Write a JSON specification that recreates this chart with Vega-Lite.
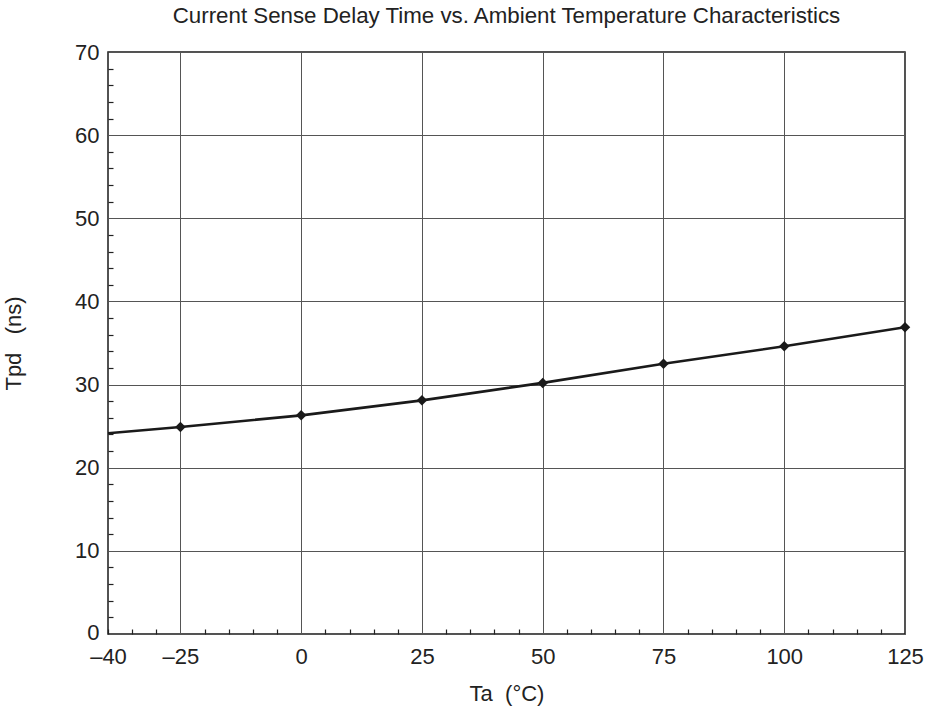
{
  "$schema": "https://vega.github.io/schema/vega-lite/v6.json",
  "width": 797,
  "height": 582,
  "autosize": {"type": "none"},
  "padding": {"left": 108, "top": 52, "right": 25, "bottom": 78},
  "background": "white",
  "config": {
    "font": "Liberation Sans",
    "view": {"stroke": "#1a1a1a", "strokeWidth": 1.5},
    "axis": {"domain": false}
  },
  "title": {
    "text": "Current Sense Delay Time vs. Ambient Temperature Characteristics",
    "fontSize": 22.3,
    "fontWeight": "normal",
    "color": "#222",
    "font": "Liberation Sans",
    "anchor": "middle",
    "offset": 14
  },
  "data": {
    "values": [
      {"Ta": -40, "Tpd": 24.15},
      {"Ta": -25, "Tpd": 24.9},
      {"Ta": 0, "Tpd": 26.3},
      {"Ta": 25, "Tpd": 28.1},
      {"Ta": 50, "Tpd": 30.2},
      {"Ta": 75, "Tpd": 32.5},
      {"Ta": 100, "Tpd": 34.6},
      {"Ta": 125, "Tpd": 36.9}
    ]
  },
  "encoding": {
    "x": {
      "field": "Ta",
      "type": "quantitative",
      "scale": {"domain": [-40, 125], "nice": false, "zero": false},
      "axis": {
        "title": "Ta\u00a0\u00a0(°C)",
        "titleFontSize": 22,
        "titleFontWeight": "normal",
        "titleColor": "#222",
        "titlePadding": 16,
        "values": [-40,-35,-30,-25,-20,-15,-10,-5,0,5,10,15,20,25,30,35,40,45,50,55,60,65,70,75,80,85,90,95,100,105,110,115,120,125],
        "labelExpr": "(datum.value == -40 || datum.value % 25 == 0) ? (datum.value < 0 ? '–' + abs(datum.value) : '' + datum.value) : ''",
        "labelFontSize": 22,
        "labelColor": "#222",
        "labelPadding": 17,
        "labelFlush": false,
        "labelOverlap": false,
        "tickSize": -5,
        "tickColor": "#222",
        "tickWidth": 1.2,
        "tickOpacity": {"condition": {"test": "datum.value % 25 == 0", "value": 0}, "value": 1},
        "grid": true,
        "gridColor": "#555",
        "gridWidth": 1,
        "gridOpacity": {"condition": {"test": "datum.value % 25 == 0", "value": 1}, "value": 0}
      }
    },
    "y": {
      "field": "Tpd",
      "type": "quantitative",
      "scale": {"domain": [0, 70], "nice": false},
      "axis": {
        "title": "Tpd\u00a0\u00a0\u00a0(ns)",
        "titleFontSize": 22,
        "titleFontWeight": "normal",
        "titleColor": "#222",
        "titlePadding": 49,
        "values": [0,2,4,6,8,10,12,14,16,18,20,22,24,26,28,30,32,34,36,38,40,42,44,46,48,50,52,54,56,58,60,62,64,66,68,70],
        "labelExpr": "datum.value % 10 == 0 ? '' + datum.value : ''",
        "labelFontSize": 22,
        "labelColor": "#222",
        "labelPadding": 14,
        "labelOffset": {"condition": {"test": "datum.value == 0", "value": -2}, "value": 0},
        "labelOverlap": false,
        "labelFlush": false,
        "tickSize": -5,
        "tickColor": "#222",
        "tickWidth": 1.2,
        "tickOpacity": {"condition": {"test": "datum.value % 10 == 0", "value": 0}, "value": 1},
        "grid": true,
        "gridColor": "#555",
        "gridWidth": 1,
        "gridOpacity": {"condition": {"test": "datum.value % 10 == 0", "value": 1}, "value": 0}
      }
    }
  },
  "layer": [
    {"mark": {"type": "line", "color": "#1a1a1a", "strokeWidth": 2.6, "clip": true}},
    {
      "transform": [{"filter": "datum.Ta > -40"}],
      "mark": {"type": "point", "shape": "diamond", "filled": true, "color": "#1a1a1a", "opacity": 1, "size": 110, "clip": false}
    }
  ]
}
